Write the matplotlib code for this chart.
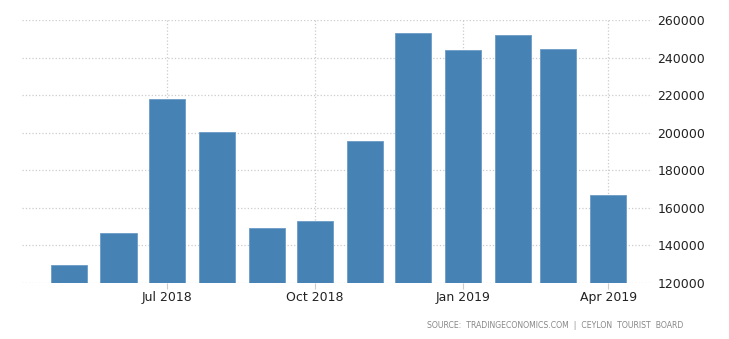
import matplotlib.pyplot as plt
import matplotlib.dates as mdates
import numpy as np
import pandas as pd

# Tourist arrivals, Sri Lanka (monthly)
months = ['2018-05', '2018-06', '2018-07', '2018-08', '2018-09', '2018-10',
          '2018-11', '2018-12', '2019-01', '2019-02', '2019-03', '2019-04']
arrivals = [129466, 146828, 217829, 200359, 149087, 153123,
            195582, 253169, 244239, 252033, 244328, 166975]
tick_months = ['2018-07', '2018-10', '2019-01', '2019-04']
tick_labels = ['Jul 2018', 'Oct 2018', 'Jan 2019', 'Apr 2019']
y_ticks = [120000, 140000, 160000, 180000, 200000, 220000, 240000, 260000]

dates = pd.to_datetime(months)
fig = plt.figure(figsize=(7.29, 3.39), dpi=100)
ax = fig.add_axes([0.030, 0.165, 0.864, 0.776])

ax.bar(dates, arrivals, width=22.4, color='#4682b4', edgecolor='#6a9bc6',
       linewidth=0.6, zorder=2)

ax.set_ylim(120000, 260000)
ax.set_xlim(pd.Timestamp('2018-04-02'), pd.Timestamp('2019-04-28'))

ax.set_xticks(pd.to_datetime(tick_months))
ax.set_xticklabels(tick_labels, fontsize=9, color='#222222')
ax.set_yticks(y_ticks)
ax.set_yticklabels([str(v) for v in y_ticks], fontsize=9, color='#222222')
ax.yaxis.tick_right()
ax.tick_params(axis='y', length=0, pad=4)
ax.tick_params(axis='x', length=4, color='#cccccc', pad=2)

ax.grid(True, color='#cccccc', linestyle=':', linewidth=0.9, zorder=0)
ax.set_axisbelow(True)
for s in ax.spines.values():
    s.set_visible(False)

fig.text(0.937, 0.041, 'SOURCE:  TRADINGECONOMICS.COM  |  CEYLON  TOURIST  BOARD',
         ha='right', va='center', fontsize=5.6, color='#888888')

fig.savefig('out.png', dpi=100)
